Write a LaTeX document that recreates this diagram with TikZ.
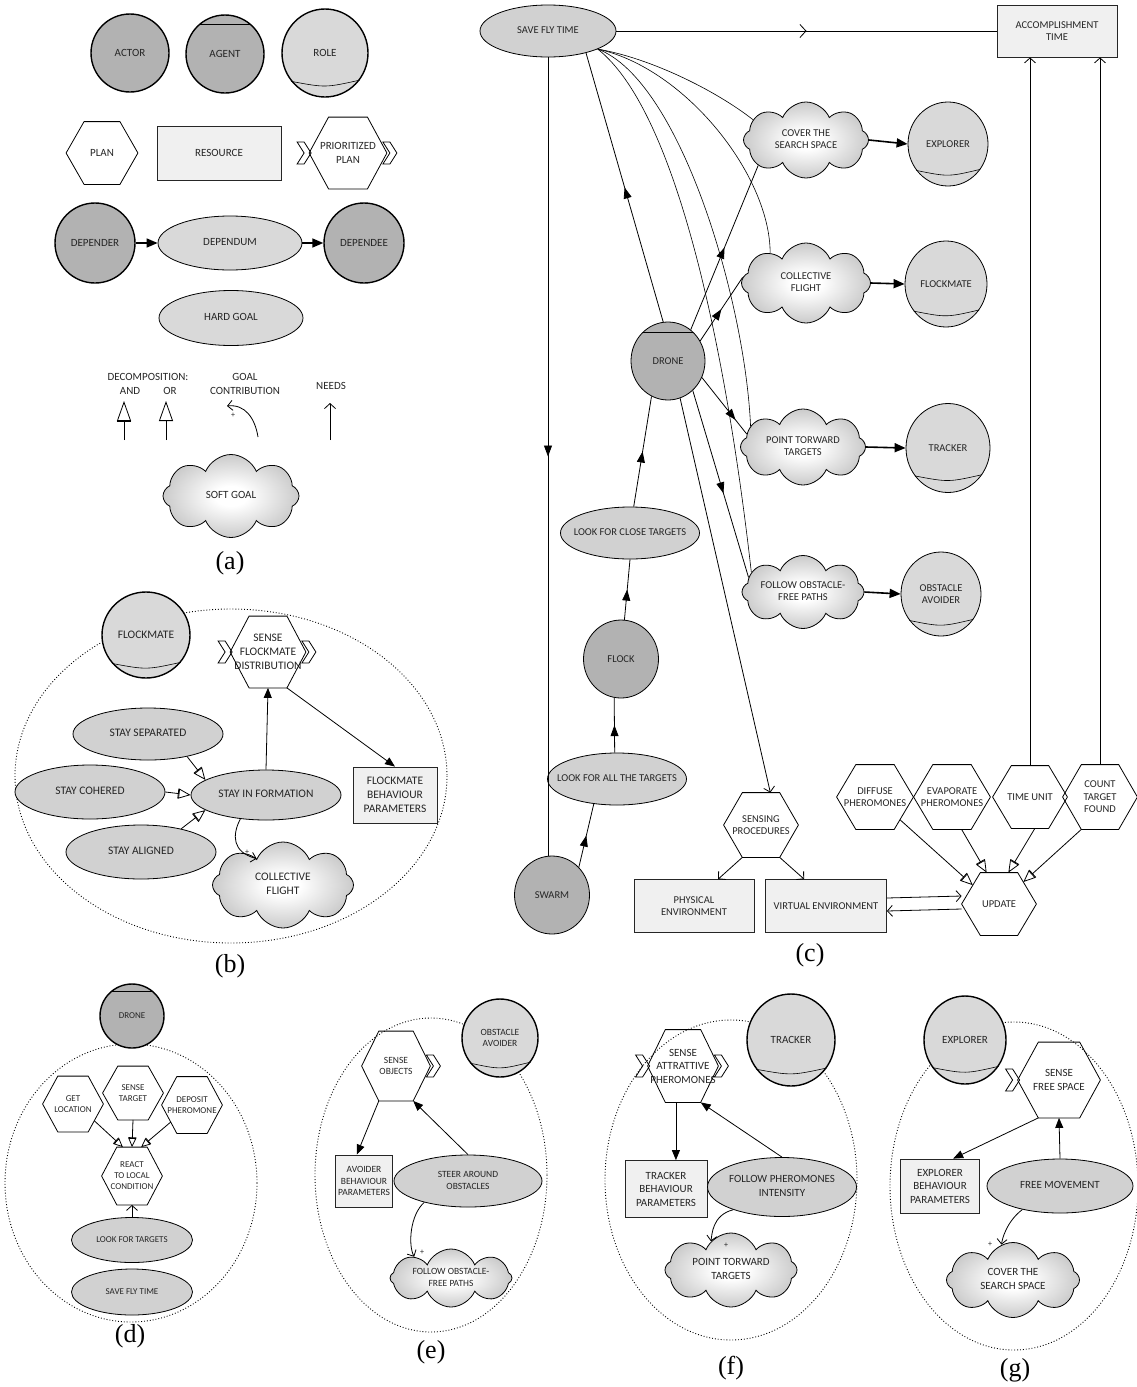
\documentclass[tikz,border=0pt]{standalone}
\usepackage{fontspec}
\setmainfont{Carlito}
\newfontfamily\capfont{Liberation Serif}
\usetikzlibrary{arrows.meta,calc,shapes.geometric,shapes.symbols,decorations.markings}

\pgfdeclareradialshading{cloudshade}{\pgfpoint{0bp}{0bp}}{color(0bp)=(white); color(6bp)=(white); color(30bp)=(black!26); color(50bp)=(black!45)}

\newcommand{\zt}[1]{\makebox[0pt]{\begin{tabular}{@{}c@{}}#1\end{tabular}}}
\newcommand{\hexa}[5]{%
  \node (#1) at (#2) [rectangle, minimum width=#3pt, minimum height=#4pt] {#5};
  \coordinate (#1-tl) at ($(#1.north west)!.25!(#1.north east)$);
  \coordinate (#1-tr) at ($(#1.north west)!.75!(#1.north east)$);
  \coordinate (#1-bl) at ($(#1.south west)!.25!(#1.south east)$);
  \coordinate (#1-br) at ($(#1.south west)!.75!(#1.south east)$);
  \draw (#1.west) -- (#1-tl) -- (#1-tr) -- (#1.east) -- (#1-br) -- (#1-bl) -- cycle;}
\newcommand{\lchev}[1]{\draw ([xshift=-12pt,yshift=11pt]#1.west) -- ++(7,0) -- ++(7,11) -- ++(-7,11) -- ++(-7,0) -- ++(7,-11) -- cycle;}
\newcommand{\rchev}[1]{\draw ([xshift=-4pt,yshift=11pt]#1.east) -- ++(7,0) -- ++(7,11) -- ++(-7,11) -- ++(-7,0) -- ++(7,-11) -- cycle;}
\newcommand{\rolearc}[1]{\draw[fine] (#1.220) .. controls ($(#1.220)!.5!(#1.322)+(0,7)$) .. (#1.322);}

\tikzset{
  actor/.style={ellipse, draw, line width=1.4pt, fill=black!30},
  role/.style={ellipse, draw, line width=1.4pt, fill=black!15},
  thinb/.style={line width=0.8pt},
  goal/.style={ellipse, draw, fill=black!18},
  resource/.style={rectangle, draw=black!85, fill=black!6},
  soft/.style={cloud, cloud puffs=8, cloud puff arc=135, draw, shade, shading=cloudshade},
  sz/.style 2 args={minimum width=#1pt, minimum height=#2pt},
  panelcap/.style={font=\capfont\fontsize{26}{30}\selectfont, text=black},
  plussign/.style={font=\fontsize{8}{8}\selectfont},
  fine/.style={line width=0.6pt},
  ring/.style={dotted, line width=0.9pt},
  dep/.style={-{Triangle[length=10pt,width=8pt]}},
  depthick/.style={line width=1.6pt, -{Triangle[length=11pt,width=9pt]}},
  decomp/.style={-{Bar[width=10pt] Triangle[open,length=12pt,width=10pt]}},
  decompsm/.style={-{Bar[width=8pt] Triangle[open,length=9pt,width=8pt]}},
  andlink/.style={-{Bar[width=14pt] Triangle[open,length=20pt,width=14pt]}},
  orlink/.style={-{Triangle[open,length=20pt,width=14pt]}},
  needs/.style={-{Straight Barb[length=5pt,width=11pt]}},
  contrib/.style={-{Straight Barb[length=5pt,width=10pt]}},
  midtri/.style={decoration={markings, mark=at position #1 with {\arrow{Triangle[length=11pt,width=8pt]}}}, postaction={decorate}},
  midbarb/.style={decoration={markings, mark=at position #1 with {\arrow{Straight Barb[length=6pt,width=13pt]}}}, postaction={decorate}},
}

\begin{document}
\begin{tikzpicture}[x=1pt, y=-1pt, line width=0.8pt,
  every node/.style={inner sep=0pt, align=center, text=black!85}]
  \useasboundingbox (0,0) rectangle (1137,1387);

  \begin{scope}[every node/.append style={font=\fontsize{11}{13.5}\selectfont}]
  \draw (130,53) node (a1) [actor, sz={78}{78}] {ACTOR};
  \draw (225,54) node (a2) [actor, sz={78}{78}] {AGENT};
  \draw (a2.131) -- (a2.49);
  \draw (325,53) node (a3) [role, sz={86}{88}] {ROLE};
  \rolearc{a3}

  \hexa{a4}{102,153}{71}{62}{PLAN}
  \draw (219,153) node (a5) [resource, sz={124}{54}] {RESOURCE};
  \hexa{a6}{348,153}{77}{71}{PRIORITIZED\\PLAN}
  \lchev{a6} \rchev{a6}

  \draw (95,243) node (a7) [actor, sz={80}{80}] {DEPENDER};
  \draw (230,243) node (a8) [goal, fill=black!15, sz={144}{54}] {\zt{DEPENDUM}};
  \draw (364,243) node (a9) [actor, sz={80}{80}] {DEPENDEE};
  \draw[depthick] (a7) -- (a8);
  \draw[depthick] (a8) -- (a9);
  \draw (231,318) node (a10) [goal, fill=black!15, sz={144}{55}] {\zt{HARD GOAL}};

  \draw (148,377) node (a11) {DECOMPOSITION:};
  \draw (130,391) node (a12) {AND};
  \draw (170,391) node (a13) {OR};
  \draw (245,384) node (a14) {GOAL\\CONTRIBUTION};
  \draw (331,386) node (a15) {NEEDS};
  \coordinate (a16) at (124,440); \coordinate (a17) at (124,401);
  \draw[andlink] (a16) -- (a17);
  \coordinate (a18) at (166,440); \coordinate (a19) at (166,401);
  \draw[orlink] (a18) -- (a19);
  \coordinate (a20) at (258,437); \coordinate (a21) at (227,406);
  \draw[contrib] (a20) .. controls (255,418) and (245,404) .. (a21);
  \draw (233,415) node (a22) [plussign] {+};
  \coordinate (a23) at (330,440); \coordinate (a24) at (330,403);
  \draw[needs] (a23) -- (a24);
  \draw (231,496) node (a25) [soft, sz={136}{83}] {\zt{SOFT GOAL}};
  \draw (230,563) node (a26) [panelcap] {(a)};
  \end{scope}

  \begin{scope}[every node/.append style={font=\fontsize{11.5}{14}\selectfont}]
  \draw[ring] (231,776) ellipse [x radius=216, y radius=167];
  \draw (146,635) node (b1) [role, sz={88}{86}] {FLOCKMATE};
  \rolearc{b1}
  \hexa{b2}{268,652}{75}{71}{SENSE\\FLOCKMATE\\DISTRIBUTION}
  \lchev{b2} \rchev{b2}
  \draw (148,734) node (b3) [goal, sz={150}{52}] {\zt{STAY SEPARATED}};
  \draw (90,792) node (b4) [goal, sz={150}{54}] {\zt{STAY COHERED}};
  \draw (266,795) node (b5) [goal, sz={150}{50}] {\zt{STAY IN FORMATION}};
  \draw (141,852) node (b6) [goal, sz={150}{54}] {\zt{STAY ALIGNED}};
  \draw (395,795) node (b7) [resource, sz={84}{56}] {FLOCKMATE\\BEHAVIOUR\\PARAMETERS};
  \draw (283,885) node (b8) [soft, sz={141}{86}] {\zt{COLLECTIVE\\FLIGHT}};
  \draw[dep] (b5.north) -- (b2.south);
  \draw[dep] (b2-br) -- (b7.north);
  \draw[decomp] (b3.330) -- (b5.166);
  \draw[decomp] (b4.east) -- (b5.west);
  \draw[decomp] (b6.30) -- (b5.194);
  \draw[contrib] (b5.223) .. controls (232,835) and (232,852) .. (b8.135);
  \draw (247,852) node (b9) [plussign] {+};
  \draw (230,966) node (b10) [panelcap] {(b)};
  \end{scope}

  \begin{scope}[every node/.append style={font=\fontsize{10.5}{12.5}\selectfont}]
  \draw (548,31) node (c1) [goal, sz={136}{52}] {\zt{SAVE FLY TIME}};
  \draw (1057,31) node (c2) [resource, sz={120}{52}] {ACCOMPLISHMENT\\TIME};
  \draw (806,140) node (c3) [soft, sz={125}{76}] {\zt{COVER THE\\SEARCH SPACE}};
  \draw (948,144) node (c4) [role, thinb, sz={80}{84}] {EXPLORER};
  \rolearc{c4}
  \draw (806,283) node (c5) [soft, sz={129}{80}] {\zt{COLLECTIVE\\FLIGHT}};
  \draw (946,284) node (c6) [role, thinb, sz={82}{86}] {FLOCKMATE};
  \rolearc{c6}
  \draw (668,361) node (c7) [actor, thinb, sz={74}{78}] {DRONE};
  \draw (c7.131) -- (c7.49);
  \draw (803,447) node (c8) [soft, sz={125}{76}] {\zt{POINT TORWARD\\TARGETS}};
  \draw (948,448) node (c9) [role, thinb, sz={84}{89}] {TRACKER};
  \rolearc{c9}
  \draw (630,533) node (c10) [goal, sz={139}{52}] {\zt{LOOK FOR CLOSE TARGETS}};
  \draw (803,592) node (c11) [soft, sz={122}{73}] {\zt{FOLLOW OBSTACLE-\\FREE PATHS}};
  \draw (941,594) node (c12) [role, thinb, sz={80}{84}] {OBSTACLE\\AVOIDER};
  \rolearc{c12}
  \draw (621,659) node (c13) [actor, thinb, sz={75}{78}] {FLOCK};
  \draw (617,779) node (c14) [goal, sz={139}{52}] {\zt{LOOK FOR ALL THE TARGETS}};
  \draw (552,895) node (c15) [actor, thinb, sz={75}{78}] {SWARM};
  \hexa{c16}{761,825}{74}{64}{SENSING\\PROCEDURES}
  \draw (694,906) node (c17) [resource, sz={120}{53}] {PHYSICAL\\ENVIRONMENT};
  \draw (826,906) node (c18) [resource, sz={121}{53}] {VIRTUAL ENVIRONMENT};
  \hexa{c19}{999,904}{74}{62}{UPDATE}
  \hexa{c20}{875,797}{76}{64}{DIFFUSE\\PHEROMONES}
  \hexa{c21}{952,797}{76}{64}{EVAPORATE\\PHEROMONES}
  \hexa{c22}{1030,797}{74}{62}{TIME UNIT}
  \hexa{c23}{1100,797}{74}{64}{COUNT\\TARGET\\FOUND}

  \draw[midbarb=0.5] (c1.east) -- (c2.west);
  \draw[midtri=0.5] (c1.south) -- (c1.south |- c15.north);
  \draw[midtri=0.5] (c15.46) -- (c14.227);
  \draw[midtri=0.5] (c14.95) -- (c13.260);
  \draw[midtri=0.5] (c13.85) -- (c10.270);
  \draw[midtri=0.5] (c10.82) -- (c7.245);
  \draw[midtri=0.5] (c7.97) -- (c1.330);
  \draw[midtri=0.5] (c7.54) -- (c3.208);
  \draw[midtri=0.5] (c7.32) -- (c5.175);
  \draw[midtri=0.75] (c7.334) -- (c8.167);
  \draw[midtri=0.55] (c7.310) -- (c11.165);
  \draw[needs] (c7.288) -- ($(c16.north)!.5!(c16-tr)$);
  \draw[fine] (c1.340) .. controls (650,58) and (715,90) .. (c3.159);
  \draw[fine] (c1.340) .. controls (685,68) and (770,175) .. (c5.140);
  \draw[fine] (c1.340) .. controls (680,80) and (745,300) .. (c8.158);
  \draw[fine] (c1.340) .. controls (675,110) and (725,340) .. (c11.159);
  \draw[depthick] (c3.east) -- (c4.west);
  \draw[depthick] (c5.east) -- (c6.west);
  \draw[depthick] (c8.east) -- (c9.west);
  \draw[depthick] (c11.east) -- (c12.west);
  \draw[needs] (c16-bl) -- ($(c17.north)!.4!(c17.north east)$);
  \draw[needs] (c16-br) -- ($(c18.north)!.36!(c18.north west)$);
  \draw[needs] ([yshift=8pt]c18.east) -- ([yshift=8pt]c19.west);
  \draw[needs] ([yshift=-5pt]c19.west) -- ([yshift=-5pt]c18.east);
  \draw[decomp] ($(c20-br)!.3!(c20.east)$) -- ($(c19.west)!.6!(c19-tl)$);
  \draw[decomp] ($(c21-bl)!.75!(c21-br)$) -- ($(c19-tl)!.17!(c19-tr)$);
  \draw[decomp] ($(c22-bl)!.63!(c22-br)$) -- ($(c19-tl)!.75!(c19-tr)$);
  \draw[decomp] (c23-bl) -- ($(c19-tr)!.3!(c19.east)$);
  \draw[needs] (c22.north) -- (c22.north |- c2.south);
  \draw[needs] (c23.north) -- (c23.north |- c2.south);
  \draw (810,955) node (c24) [panelcap] {(c)};
  \end{scope}

  \begin{scope}[every node/.append style={font=\fontsize{9}{11}\selectfont}]
  \draw[ring] (131,1183) ellipse [x radius=126, y radius=139];
  \draw (132,1016) node (d1) [actor, sz={64}{64}] {DRONE};
  \draw (d1.131) -- (d1.49);
  \hexa{d2}{73,1104}{60}{55}{GET\\LOCATION}
  \hexa{d3}{133,1093}{60}{53}{SENSE\\TARGET}
  \hexa{d4}{192,1105}{60}{56}{DEPOSIT\\PHEROMONE}
  \hexa{d5}{132,1176}{60}{57}{REACT\\TO LOCAL\\CONDITION}
  \draw (132,1240) node (d6) [goal, sz={121}{45}] {\zt{LOOK FOR TARGETS}};
  \draw (132,1292) node (d7) [goal, sz={121}{46}] {\zt{SAVE FLY TIME}};
  \draw[decompsm] ($(d2-br)!.4!(d2.east)$) -- ($(d5-tl)!.2!(d5-tr)$);
  \draw[decompsm] (d3.south) -- (d5.north);
  \draw[decompsm] ($(d4-bl)!.4!(d4.west)$) -- ($(d5-tl)!.8!(d5-tr)$);
  \draw[needs] (d6.north) -- (d5.south);
  \draw (130,1336) node (d8) [panelcap] {(d)};
  \end{scope}

  \begin{scope}[every node/.append style={font=\fontsize{9.5}{11.5}\selectfont}]
  \draw[ring] (431,1175) ellipse [x radius=116, y radius=157];
  \draw (500,1038) node (e1) [role, sz={76}{78}] {OBSTACLE\\AVOIDER};
  \rolearc{e1}
  \hexa{e2}{396,1066}{68}{69}{SENSE\\OBJECTS}
  \rchev{e2}
  \draw (364,1181) node (e3) [resource, sz={57}{52}] {AVOIDER\\BEHAVIOUR\\PARAMETERS};
  \draw (468,1181) node (e4) [goal, sz={148}{52}] {\zt{STEER AROUND\\OBSTACLES}};
  \draw (451,1278) node (e5) [soft, sz={122}{58}] {\zt{FOLLOW OBSTACLE-\\FREE PATHS}};
  \draw[dep] (e2-bl) -- ($(e3.north)!.25!(e3.north west)$);
  \draw[dep] (e4.north) -- (e2-br);
  \draw[contrib] (e4.206) .. controls (410,1215) and (408,1245) .. (e5.150);
  \draw (422,1252) node (e6) [plussign] {+};
  \draw (431,1352) node (e7) [panelcap] {(e)};
  \end{scope}

  \begin{scope}[every node/.append style={font=\fontsize{11}{13.5}\selectfont}]
  \draw[ring] (731,1180) ellipse [x radius=126, y radius=160];
  \draw (791,1040) node (f1) [role, sz={88}{92}] {TRACKER};
  \rolearc{f1}
  \hexa{f2}{683,1066}{70}{72}{SENSE\\ATTRATTIVE\\PHEROMONES}
  \lchev{f2} \rchev{f2}
  \draw (666,1189) node (f3) [resource, sz={82}{57}] {TRACKER\\BEHAVIOUR\\PARAMETERS};
  \draw (782,1187) node (f4) [goal, sz={149}{59}] {\zt{FOLLOW PHEROMONES\\INTENSITY}};
  \draw (731,1270) node (f5) [soft, sz={132}{74}] {\zt{POINT TORWARD\\TARGETS}};
  \coordinate (f6) at ($(f2-bl)!.6!(f2.south)$);
  \draw[dep] (f6) -- (f6 |- f3.north);
  \draw[dep] (f4.north) -- (f2-br);
  \draw[contrib] (f4.205) .. controls (712,1215) and (712,1235) .. (f5.125);
  \draw (726,1245) node (f7) [plussign] {+};
  \draw (731,1368) node (f8) [panelcap] {(f)};

  \draw[ring] (1014,1186) ellipse [x radius=124, y radius=164];
  \draw (965,1040) node (g1) [role, sz={82}{88}] {EXPLORER};
  \rolearc{g1}
  \hexa{g2}{1059,1080}{82}{75}{SENSE\\FREE SPACE}
  \lchev{g2}
  \draw (940,1186) node (g3) [resource, sz={79}{54}] {EXPLORER\\BEHAVIOUR\\PARAMETERS};
  \draw (1060,1186) node (g4) [goal, sz={146}{54}] {\zt{FREE MOVEMENT}};
  \draw (1013,1280) node (g5) [soft, sz={133}{75}] {\zt{COVER THE\\SEARCH SPACE}};
  \draw[dep] (g2-bl) -- ($(g3.north)!.33!(g3.north east)$);
  \draw[dep] (g4.north) -- (g2.south);
  \draw[contrib] (g4.212) .. controls (1006,1222) and (1002,1240) .. (g5.108);
  \draw (990,1244) node (g6) [plussign] {+};
  \draw (1015,1370) node (g7) [panelcap] {(g)};
  \end{scope}
\end{tikzpicture}
\end{document}
